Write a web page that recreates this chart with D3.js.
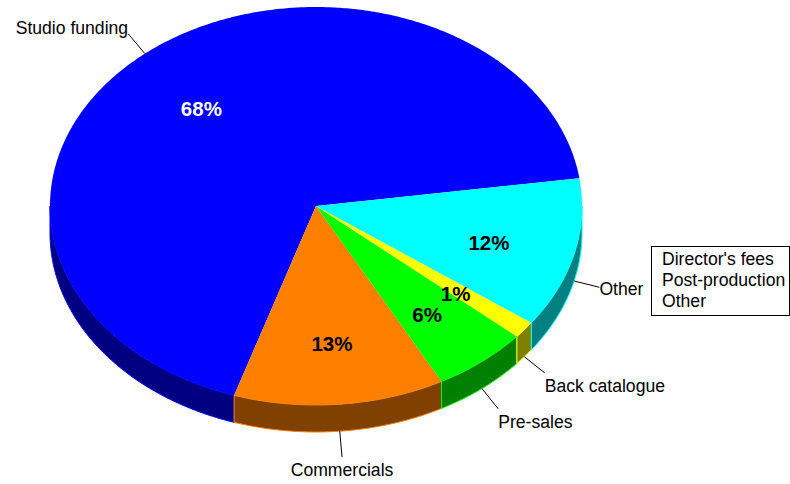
<!DOCTYPE html>
<html>
<head>
<meta charset="utf-8">
<script src="https://cdn.jsdelivr.net/npm/d3@7"></script>
<style>
  body { margin: 0; background: #fff; }
  text { font-family: "Liberation Sans", Arial, sans-serif; }
</style>
</head>
<body>
<script>
// data
var categories = ["Studio funding", "Commercials", "Pre-sales", "Back catalogue", "Other"];
var shares = [67.8, 12.8, 5.8, 1.4, 12.2];
var otherItems = ["Director's fees", "Post-production", "Other"];

// colours
var topColors = ["#0000ff", "#ff8000", "#00ff00", "#ffff00", "#00ffff"];
var sideColors = ["#000080", "#804000", "#008000", "#808000", "#008080"];
var pctColors = ["#ffffff", "#000000", "#000000", "#000000", "#000000"];

// SVG area
var svgWidth = 790;
var svgHeight = 484;

// pie geometry (tilted ellipse with depth)
var cx = 316, cy = 206, rx = 266, ry = 199, depth = 27;
var deg = Math.PI / 180;

var svg = d3.select("body")
  .append("svg")
  .attr("width", svgWidth)
  .attr("height", svgHeight);

// pie angle (d3) -> screen angle on the ellipse, running counter-clockwise
var angle = d3.scaleLinear()
  .domain([0, 2 * Math.PI])
  .range([352 * deg, -8 * deg]);

var pie = d3.pie().sort(null).value(function(d) { return d; });
var arcs = pie(shares);

function pt(t, dy) {
  return [cx + rx * Math.cos(t), cy + ry * Math.sin(t) + (dy || 0)];
}

function samples(a, b, dy) {
  var n = Math.max(2, Math.ceil(Math.abs(b - a) / (0.5 * deg)));
  return d3.range(n + 1).map(function(i) { return pt(a + (b - a) * i / n, dy); });
}

var line = d3.line();

// side walls (front half only)
var sides = svg.append("g");
arcs.forEach(function(d, i) {
  var t0 = angle(d.endAngle), t1 = angle(d.startAngle);
  [-1, 0, 1].forEach(function(k) {
    var a = Math.max(t0, k * 2 * Math.PI), b = Math.min(t1, k * 2 * Math.PI + Math.PI);
    if (b <= a) return;
    var pts = samples(a, b, 0).concat(samples(b, a, depth));
    sides.append("path")
      .attr("d", line(pts) + "Z")
      .attr("fill", sideColors[i])
      .attr("stroke", topColors[i])
      .attr("stroke-width", 1);
  });
});

// top faces
var tops = svg.append("g");
arcs.forEach(function(d, i) {
  var pts = [[cx, cy]].concat(samples(angle(d.startAngle), angle(d.endAngle), 0));
  tops.append("path")
    .attr("d", line(pts) + "Z")
    .attr("fill", topColors[i]);
});

// percentage labels
var fmt = d3.format(".0%");
arcs.forEach(function(d, i) {
  var t = angle((d.startAngle + d.endAngle) / 2);
  svg.append("text")
    .attr("x", cx + 0.67 * rx * Math.cos(t))
    .attr("y", cy + 0.67 * ry * Math.sin(t) + 5)
    .attr("dy", "0.35em")
    .attr("text-anchor", "middle")
    .attr("font-size", 20.5)
    .attr("font-weight", "bold")
    .attr("fill", pctColors[i])
    .text(fmt(d.value / d3.sum(shares)));
});

// category labels with leader lines
var lead = 26;
arcs.forEach(function(d, i) {
  var t = angle((d.startAngle + d.endAngle) / 2);
  var c = Math.cos(t), s = Math.sin(t);
  var dy = s > 0 ? depth : 0;
  var p0 = pt(t, dy);
  var p1 = [p0[0] + lead * c, p0[1] + lead * s];
  svg.append("line")
    .attr("x1", p0[0]).attr("y1", p0[1])
    .attr("x2", p1[0]).attr("y2", p1[1])
    .attr("stroke", "#000")
    .attr("stroke-width", 1);
  var anchor = c > 0.3 ? "start" : (c < -0.3 ? "end" : "middle");
  var by = s > 0.5 ? 19 : (s < -0.5 ? 0 : 8);
  svg.append("text")
    .attr("x", p1[0])
    .attr("y", p1[1] + by)
    .attr("text-anchor", anchor)
    .attr("font-size", 17.6)
    .attr("fill", "#000")
    .text(categories[i]);
});

// box listing what "Other" contains
var box = svg.append("g").attr("transform", "translate(651, 246)");
box.append("rect")
  .attr("x", 0.5).attr("y", 0.5)
  .attr("width", 138).attr("height", 69)
  .attr("fill", "#fff")
  .attr("stroke", "#000");
box.selectAll("text")
  .data(otherItems)
  .enter()
  .append("text")
  .attr("x", 11)
  .attr("y", function(d, i) { return 19 + i * 21; })
  .attr("font-size", 17.6)
  .attr("fill", "#000")
  .text(function(d) { return d; });
</script>
</body>
</html>
